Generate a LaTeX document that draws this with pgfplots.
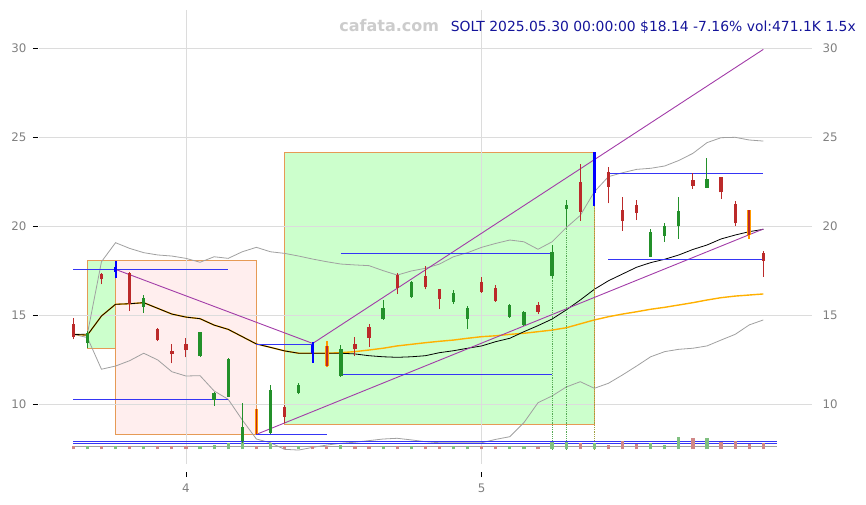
\documentclass[border=0pt]{standalone}
\usepackage{pgfplots}
\usepackage{pgfplotstable}
\pgfplotsset{compat=1.18}
\usepackage{fontspec}
\setmainfont{DejaVu Sans}

\definecolor{cred}{HTML}{BB2A2A}
\definecolor{cgreen}{HTML}{23902A}
\definecolor{rectedge}{HTML}{E69A55}
\definecolor{gfill}{HTML}{CCFFCC}
\definecolor{pfill}{HTML}{FFEEEE}
\definecolor{hblue}{HTML}{3535F5}
\definecolor{purp}{HTML}{A23CA8}
\definecolor{maorange}{HTML}{FFB000}
\definecolor{band}{HTML}{A0A0A0}
\definecolor{ticklab}{HTML}{808080}
\definecolor{gridc}{HTML}{DCDCDC}
\definecolor{titleblue}{HTML}{14149A}
\definecolor{wm}{HTML}{CCCCCC}
\definecolor{vred}{HTML}{D08888}
\definecolor{vgreen}{HTML}{80C080}
\definecolor{hlorange}{HTML}{FF9A00}
\definecolor{dotgreen}{HTML}{55AA55}
\definecolor{dotolive}{HTML}{A0A040}

% red candles: index, low, high, body bottom, body top
\pgfplotstableread{
i lo hi bb bt
0 13.65 14.83 13.80 14.51
2 16.74 17.36 17.02 17.30
4 15.26 17.42 15.62 17.36
6 13.54 14.27 13.61 14.21
7 12.30 13.39 12.81 13.01
8 12.64 13.71 13.05 13.39
15 8.93 9.96 9.30 9.87
20 12.71 13.80 13.09 13.39
21 13.24 14.51 13.74 14.36
23 16.20 17.39 16.55 17.26
25 16.46 17.77 16.61 17.21
26 15.35 16.50 15.93 16.48
29 16.27 17.17 16.33 16.87
30 15.75 16.70 15.82 16.55
33 15.07 15.76 15.20 15.58
36 20.31 23.50 20.82 22.49
38 21.29 23.35 22.22 23.07
39 19.75 21.63 20.31 20.92
40 20.35 21.48 20.76 21.20
44 22.10 22.98 22.28 22.60
46 21.53 22.79 21.91 22.75
47 20.03 21.42 20.17 21.25
49 17.17 18.61 18.07 18.48
}\redc

% green candles
\pgfplotstableread{
i lo hi bb bt
1 13.18 14.13 13.43 14.02
5 15.15 16.14 15.48 15.96
9 12.68 14.08 12.71 14.06
10 9.92 10.71 10.24 10.62
11 10.40 12.58 10.43 12.53
12 7.81 10.06 7.94 8.71
14 8.31 11.08 8.37 10.80
16 10.56 11.18 10.65 11.08
19 11.55 13.33 11.59 13.11
22 14.74 15.86 14.79 15.43
24 15.99 16.93 16.04 16.87
27 15.63 16.42 15.76 16.27
28 14.23 15.52 14.78 15.39
31 14.87 15.63 14.92 15.58
32 14.40 15.24 14.46 15.19
34 17.08 18.95 17.21 18.54
35 20.02 21.48 20.97 21.20
41 18.25 19.83 18.29 19.68
42 19.13 20.20 19.46 20.02
43 19.29 21.66 20.02 20.88
45 22.15 23.82 22.17 22.66
}\greenc

% blue highlighted candles
\pgfplotstableread{
i lo hi bb bt
3 17.08 18.07 17.45 17.73
17 12.34 13.52 12.87 13.33
37 21.16 24.16 21.89 24.16
}\bluec

% orange highlighted candles
\pgfplotstableread{
i lo hi bb bt
13 8.31 9.72 8.31 9.72
18 12.08 13.56 12.15 13.28
48 19.29 20.92 19.51 20.92
}\orangec

% volume (bar top, base 7.47)
\pgfplotstableread{
i v
0 7.66
2 7.66
4 7.66
6 7.66
7 7.66
8 7.66
13 7.66
15 7.64
17 7.66
18 7.68
20 7.64
21 7.64
23 7.66
25 7.66
26 7.66
29 7.66
30 7.66
33 7.60
36 7.84
38 7.74
39 7.92
40 7.77
44 8.10
46 7.87
47 7.95
48 7.77
49 7.84
}\volred
\pgfplotstableread{
i v
1 7.66
3 7.66
5 7.66
9 7.66
10 7.74
11 7.82
12 7.87
14 7.82
16 7.64
19 7.72
22 7.68
24 7.66
27 7.64
28 7.64
31 7.66
32 7.66
34 7.87
35 7.87
37 7.84
41 7.82
42 7.70
43 8.15
45 8.10
}\volgreen

\pgfplotsset{
  vseg/.style 2 args={draw=none, no markers, forget plot,
    error bars/.cd, y dir=plus, y explicit, error mark=none,
    error bar style={line width=#2, draw=#1, solid}},
}

\begin{document}
\begin{tikzpicture}
\begin{axis}[
  set layers,
  at={(0,0)}, anchor=south west,
  scale only axis, width=774bp, height=455bp,
  xmin=-2.507, xmax=52.457, ymin=6.646, ymax=32.21,
  axis line style={white, line width=0.1bp},
  xtick={8,29}, xticklabels={4,5},
  ytick={10,15,20,25,30},
  grid=major, major grid style={draw=gridc, line width=0.8bp},
  tick align=outside, major tick length=5bp,
  ytick pos=left, xtick pos=bottom,
  every tick/.style={black, line width=0.9bp},
  xtick style={black, line width=0.9bp, yshift=-8bp},
  ytick style={black, line width=0.9bp},
  ticklabel style={font=\fontsize{11.8bp}{14bp}\selectfont, text=ticklab},
  xticklabel style={yshift=-11bp},
  yticklabel style={xshift=-3bp},
  /pgf/number format/assume math mode=true,
  clip=false,
]
% zone rectangles
\addplot[on layer=axis background, fill=gfill, draw=rectedge, line width=1bp, forget plot]
  coordinates {(1,13.15) (3,13.15) (3,18.07) (1,18.07)} -- cycle;
\addplot[on layer=axis background, fill=pfill, draw=rectedge, line width=1bp, forget plot]
  coordinates {(3,8.28) (13,8.28) (13,18.07) (3,18.07)} -- cycle;
\addplot[on layer=axis background, fill=gfill, draw=rectedge, line width=1bp, forget plot]
  coordinates {(15,8.89) (37,8.89) (37,24.16) (15,24.16)} -- cycle;

% bands
\addplot[band, line width=0.8bp, forget plot] coordinates {
(0,13.93) (1,13.95) (2,18.01) (3,19.08) (4,18.76) (5,18.52) (6,18.39) (7,18.33) (8,18.20) (9,17.98)
(10,18.29) (11,18.20) (12,18.57) (13,18.82) (14,18.57) (15,18.48) (16,18.33) (17,18.16) (18,18.01) (19,17.88)
(20,17.83) (21,17.79) (22,17.51) (23,17.26) (24,17.49) (25,17.64) (26,17.88) (27,18.29) (28,18.52) (29,18.82)
(30,19.04) (31,19.23) (32,19.13) (33,18.71) (34,19.13) (35,19.92) (36,20.61) (37,21.94) (38,22.79) (39,23.01)
(40,23.20) (41,23.26) (42,23.39) (43,23.70) (44,24.10) (45,24.70) (46,24.98) (47,25.00) (48,24.85) (49,24.79)};
\addplot[band, line width=0.8bp, forget plot] coordinates {
(0,13.93) (1,13.75) (2,11.97) (3,12.15) (4,12.45) (5,12.87) (6,12.49) (7,11.83) (8,11.59) (9,11.61)
(10,10.75) (11,10.28) (12,9.12) (13,8.05) (14,7.84) (15,7.47) (16,7.43) (17,7.58) (18,7.71) (19,7.81)
(20,7.87) (21,7.96) (22,8.05) (23,8.09) (24,8.00) (25,7.90) (26,7.84) (27,7.84) (28,7.84) (29,7.84)
(30,8.03) (31,8.18) (32,8.97) (33,10.09) (34,10.47) (35,10.97) (36,11.27) (37,10.90) (38,11.18) (39,11.65)
(40,12.15) (41,12.67) (42,12.96) (43,13.09) (44,13.15) (45,13.28) (46,13.61) (47,13.93) (48,14.46) (49,14.74)};

% orange moving average
\addplot[maorange, line width=1.4bp, forget plot] coordinates {
(0,13.93) (1,13.89) (2,14.96) (3,15.62) (4,15.65) (5,15.71) (6,15.39) (7,15.07) (8,14.90) (9,14.81)
(10,14.45) (11,14.21) (12,13.80) (13,13.39) (14,13.20) (15,13.00) (16,12.87) (17,12.87) (18,12.87) (19,12.90)
(20,12.96) (21,13.05) (22,13.15) (23,13.28) (24,13.37) (25,13.46) (26,13.54) (27,13.61) (28,13.71) (29,13.80)
(30,13.85) (31,13.93) (32,13.99) (33,14.08) (34,14.17) (35,14.30) (36,14.52) (37,14.74) (38,14.92) (39,15.07)
(40,15.20) (41,15.34) (42,15.45) (43,15.58) (44,15.71) (45,15.86) (46,15.99) (47,16.08) (48,16.14) (49,16.20)};
% black moving average
\addplot[black, line width=0.8bp, forget plot] coordinates {
(0,13.93) (1,13.89) (2,14.96) (3,15.62) (4,15.65) (5,15.71) (6,15.39) (7,15.07) (8,14.90) (9,14.81)
(10,14.45) (11,14.21) (12,13.80) (13,13.39) (14,13.20) (15,13.00) (16,12.87) (17,12.87) (18,12.87) (19,12.87)
(20,12.83) (21,12.73) (22,12.67) (23,12.64) (24,12.67) (25,12.73) (26,12.90) (27,13.01) (28,13.15) (29,13.28)
(30,13.52) (31,13.71) (32,14.08) (33,14.42) (34,14.79) (35,15.30) (36,15.86) (37,16.46) (38,16.94) (39,17.32)
(40,17.70) (41,17.96) (42,18.15) (43,18.39) (44,18.70) (45,18.95) (46,19.29) (47,19.51) (48,19.70) (49,19.83)};

% trend lines
\addplot[purp, line width=0.9bp, forget plot] coordinates {(3,17.58) (17,13.42)};
\addplot[purp, line width=0.9bp, forget plot] coordinates {(17,13.42) (49,29.94)};
\addplot[purp, line width=0.9bp, forget plot] coordinates {(13,8.31) (49,19.85)};

% horizontal levels
\addplot[hblue, line width=0.9bp, forget plot] coordinates {(0,17.58) (11,17.58)};
\addplot[hblue, line width=0.9bp, forget plot] coordinates {(0,10.28) (11,10.28)};
\addplot[hblue, line width=0.9bp, forget plot] coordinates {(13,13.37) (17,13.37)};
\addplot[hblue, line width=0.9bp, forget plot] coordinates {(13,8.33) (18,8.33)};
\addplot[hblue, line width=0.9bp, forget plot] coordinates {(19,18.48) (34,18.48)};
\addplot[hblue, line width=0.9bp, forget plot] coordinates {(19,11.69) (34,11.69)};
\addplot[hblue, line width=0.9bp, forget plot] coordinates {(38,22.98) (49,22.98)};
\addplot[hblue, line width=0.9bp, forget plot] coordinates {(38,18.15) (49,18.15)};

% vertical dotted markers
\addplot[dotgreen, densely dotted, line width=0.8bp, forget plot] coordinates {(34,7.47) (34,17.08)};
\addplot[dotgreen, densely dotted, line width=0.8bp, forget plot] coordinates {(35,7.47) (35,20.02)};
\addplot[dotolive, densely dotted, line width=0.8bp, forget plot] coordinates {(37,7.47) (37,21.16)};

% volume strip
\addplot[hblue, line width=0.9bp, forget plot] coordinates {(0,7.90) (50,7.90)};
\addplot[hblue, line width=0.9bp, forget plot] coordinates {(0,7.79) (50,7.79)};
\addplot[band, line width=0.9bp, forget plot] coordinates {(0,7.63) (50,7.63)};
\addplot[vseg={vred}{3.2bp}] table[x=i, y expr=7.47, y error expr=\thisrow{v}-7.47] {\volred};
\addplot[vseg={vgreen}{3.2bp}] table[x=i, y expr=7.47, y error expr=\thisrow{v}-7.47] {\volgreen};

% candles
\addplot[vseg={cred}{1bp}] table[x=i, y=lo, y error expr=\thisrow{hi}-\thisrow{lo}] {\redc};
\addplot[vseg={cred}{3.3bp}] table[x=i, y=bb, y error expr=\thisrow{bt}-\thisrow{bb}] {\redc};
\addplot[vseg={cgreen}{1bp}] table[x=i, y=lo, y error expr=\thisrow{hi}-\thisrow{lo}] {\greenc};
\addplot[vseg={cgreen}{3.3bp}] table[x=i, y=bb, y error expr=\thisrow{bt}-\thisrow{bb}] {\greenc};
\addplot[vseg={blue}{2bp}] table[x=i, y=lo, y error expr=\thisrow{hi}-\thisrow{lo}] {\bluec};
\addplot[vseg={blue}{3.3bp}] table[x=i, y=bb, y error expr=\thisrow{bt}-\thisrow{bb}] {\bluec};
\addplot[vseg={hlorange}{2bp}] table[x=i, y=lo, y error expr=\thisrow{hi}-\thisrow{lo}] {\orangec};
\addplot[vseg={hlorange}{3.6bp}] table[x=i, y=bb, y error expr=\thisrow{bt}-\thisrow{bb}] {\orangec};
\addplot[vseg={cred}{1.6bp}] table[x=i, y=bb, y error expr=\thisrow{bt}-\thisrow{bb}] {\orangec};
\end{axis}

\begin{axis}[
  at={(0,0)}, anchor=south west,
  scale only axis, width=774bp, height=455bp,
  xmin=-2.507, xmax=52.457, ymin=6.646, ymax=32.21,
  xtick=\empty,
  axis line style={draw=none},
  ytick={10,15,20,25,30},
  ytick pos=right, yticklabel pos=right,
  major tick length=0bp,
  ytick style={draw=none},
  ticklabel style={font=\fontsize{11.8bp}{14bp}\selectfont, text=ticklab},
  yticklabel style={xshift=7bp},
  /pgf/number format/assume math mode=true,
]
\addplot[white, opacity=0, forget plot] coordinates {(0,10) (1,10)};
\end{axis}

\node[anchor=base east, inner sep=0pt, text=titleblue, font=\fontsize{13.9bp}{16bp}\selectfont]
  at (818bp,432.3bp) {SOLT 2025.05.30 00:00:00 \$18.14 -7.16\% vol:471.1K 1.5x};
\node[anchor=base east, inner sep=0pt, text=wm, font=\bfseries\fontsize{16bp}{19bp}\selectfont]
  at (401.3bp,432.3bp) {cafata.com};
\path (-38bp,-41bp) rectangle (828bp,464bp);
\end{tikzpicture}
\end{document}
